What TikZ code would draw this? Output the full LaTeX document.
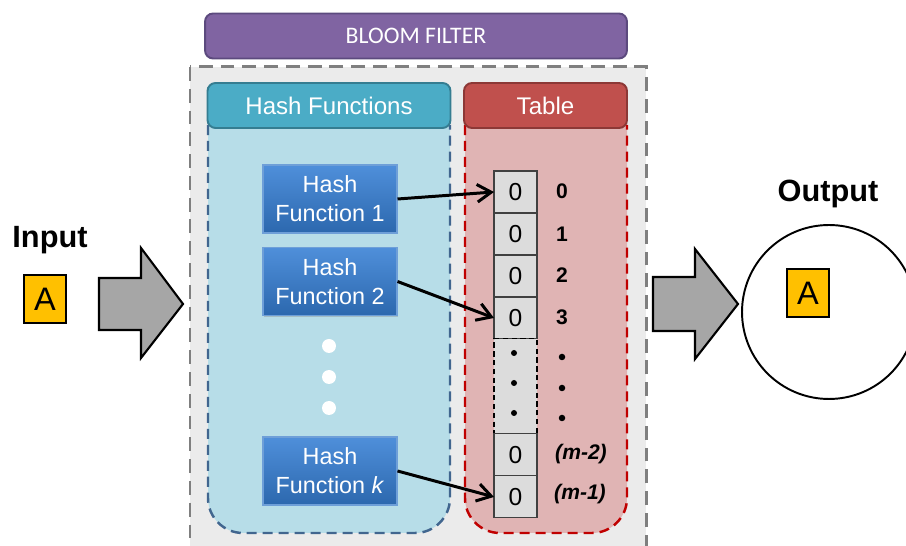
\documentclass[tikz,border=0pt]{standalone}
\usepackage{fontspec}
\setmainfont{Liberation Sans}
\newfontfamily\calibri{Carlito}
\usetikzlibrary{positioning, arrows.meta, shadows}

\definecolor{bloomfill}{HTML}{8064A2}
\definecolor{bloomline}{HTML}{5C4A7E}
\definecolor{hashhdfill}{HTML}{4BACC6}
\definecolor{hashhdline}{HTML}{357D91}
\definecolor{tablehdfill}{HTML}{C0504D}
\definecolor{tablehdline}{HTML}{8C3836}
\definecolor{hashzone}{HTML}{B7DDE8}
\definecolor{hashzoneline}{HTML}{41668F}
\definecolor{tablezone}{HTML}{E0B4B4}
\definecolor{tablezoneline}{HTML}{C00000}
\definecolor{outerfill}{HTML}{EBEBEB}
\definecolor{outerline}{HTML}{7F7F7F}
\definecolor{hashtop}{HTML}{4F8FDA}
\definecolor{hashbottom}{HTML}{2C68AE}
\definecolor{hashline}{HTML}{6E9FD8}
\definecolor{cellfill}{HTML}{DCDCDC}
\definecolor{keyfill}{HTML}{FFC000}
\definecolor{bigarrowfill}{HTML}{A6A6A6}

\begin{document}
\begin{tikzpicture}[
 x=0.02cm, y=-0.02cm,
 header/.style={rectangle, rounded corners=0.16cm, line width=1.1pt, text=white,
  minimum height=0.9cm, inner sep=0pt, font=\fontsize{13.7pt}{15pt}\selectfont},
 zone/.style={line width=1.4pt, dash pattern=on 5.7pt off 3.4pt, rounded corners=0.7cm},
 hashbox/.style={rectangle, minimum width=2.68cm, minimum height=1.36cm, inner sep=0pt,
  top color=hashtop, bottom color=hashbottom, draw=hashline, line width=0.6pt,
  text=white, align=center, font=\fontsize{13.3pt}{16.5pt}\selectfont,
  drop shadow={opacity=0.35, shadow xshift=0.8pt, shadow yshift=-0.8pt}},
 cell/.style={rectangle, draw=black!75, line width=0.6pt, fill=cellfill,
  minimum width=0.86cm, minimum height=0.84cm, inner sep=0pt, outer sep=0pt,
  font=\fontsize{14pt}{16pt}\selectfont},
 gapcell/.style={cell, draw=black, densely dashed, minimum height=1.9cm},
 idx/.style={font=\bfseries\fontsize{12pt}{14pt}\selectfont},
 link/.style={line width=1.7pt, -{Straight Barb[length=8pt, width=10pt, line width=1.7pt]}},
 keybox/.style={rectangle, fill=keyfill, draw=black, line width=0.6pt,
  minimum width=0.84cm, minimum height=0.96cm, inner sep=0pt,
  font=\fontsize{18.5pt}{20pt}\selectfont},
 title/.style={font=\bfseries\fontsize{17.5pt}{20pt}\selectfont},
 bigarrow/.style={fill=bigarrowfill, draw=black, line width=1.2pt, line join=miter}
]
\useasboundingbox (0,0) rectangle (906,546);

\draw[fill=outerfill, draw=outerline, line width=1.7pt, dash pattern=on 7.9pt off 4.5pt]
 (190,67) rectangle (646,570);

\node[header, fill=bloomfill, draw=bloomline, minimum width=8.44cm,
 font=\calibri\fontsize{13.5pt}{15pt}\selectfont] (bloom) at (416,36) {BLOOM FILTER};

\draw[zone, fill=hashzone, draw=hashzoneline] (208,125) -- (208,533) -- (450,533) -- (450,125);
\draw[zone, fill=tablezone, draw=tablezoneline] (465,125) -- (465,533) -- (627,533) -- (627,125);

\node[header, fill=hashhdfill, draw=hashhdline, minimum width=4.86cm] (hashhead) at (329,105.5) {Hash Functions};
\node[header, fill=tablehdfill, draw=tablehdline, minimum width=3.26cm] (tablehead) at (545.5,105.5) {Table};

\node[hashbox] (hf1) at (330,199) {Hash\\Function 1};
\node[hashbox] (hf2) at (330,281.5) {Hash\\Function 2};
\node[hashbox] (hfk) at (330,471) {Hash\\Function \textit{k}};
\fill[white] (329,346) circle (0.14cm) (329,377) circle (0.14cm) (329,408) circle (0.14cm);

\node[cell] (c0) at (515.5,192) {0};
\node[cell, below=0pt of c0] (c1) {0};
\node[cell, below=0pt of c1] (c2) {0};
\node[cell, below=0pt of c2] (c3) {0};
\node[gapcell, below=0pt of c3] (cgap) {};
\node[cell, below=0pt of cgap] (cm2) {0};
\node[cell, below=0pt of cm2] (cm1) {0};
\fill (514,353) circle (0.06cm) (514,383) circle (0.06cm) (514,413) circle (0.06cm);

\node[idx] (i0) at (562,191) {0};
\node[idx] (i1) at (562,234) {1};
\node[idx] (i2) at (562,275) {2};
\node[idx] (i3) at (562,317) {3};
\fill (562,357) circle (0.065cm) (562,388) circle (0.065cm) (562,418) circle (0.065cm);
\node[idx] (im2) at (581,454) {\textit{(m-2)}};
\node[idx] (im1) at (580,494) {\textit{(m-1)}};

\draw[link] (hf1.east) -- (c0.west);
\draw[link] (hf2.east) -- (c3.west);
\draw[link] (hfk.east) -- (cm1.west);

\node[title] (inlabel) at (50,240) {Input};
\node[keybox] (inkey) at (45,299) {A};
\draw[bigarrow] (99,278) -- (141,278) -- (141,248) -- (183,304) -- (141,358) -- (141,330) -- (99,330) -- cycle;

\draw[bigarrow] (653,277) -- (695,277) -- (695,249) -- (738,304) -- (695,359) -- (695,331) -- (653,331) -- cycle;
\node[title] (outlabel) at (828,194) {Output};
\node[circle, draw, line width=1.1pt, minimum size=3.48cm] (outset) at (829,312) {};
\node[keybox] (outkey) at (808,293) {A};
\end{tikzpicture}
\end{document}
